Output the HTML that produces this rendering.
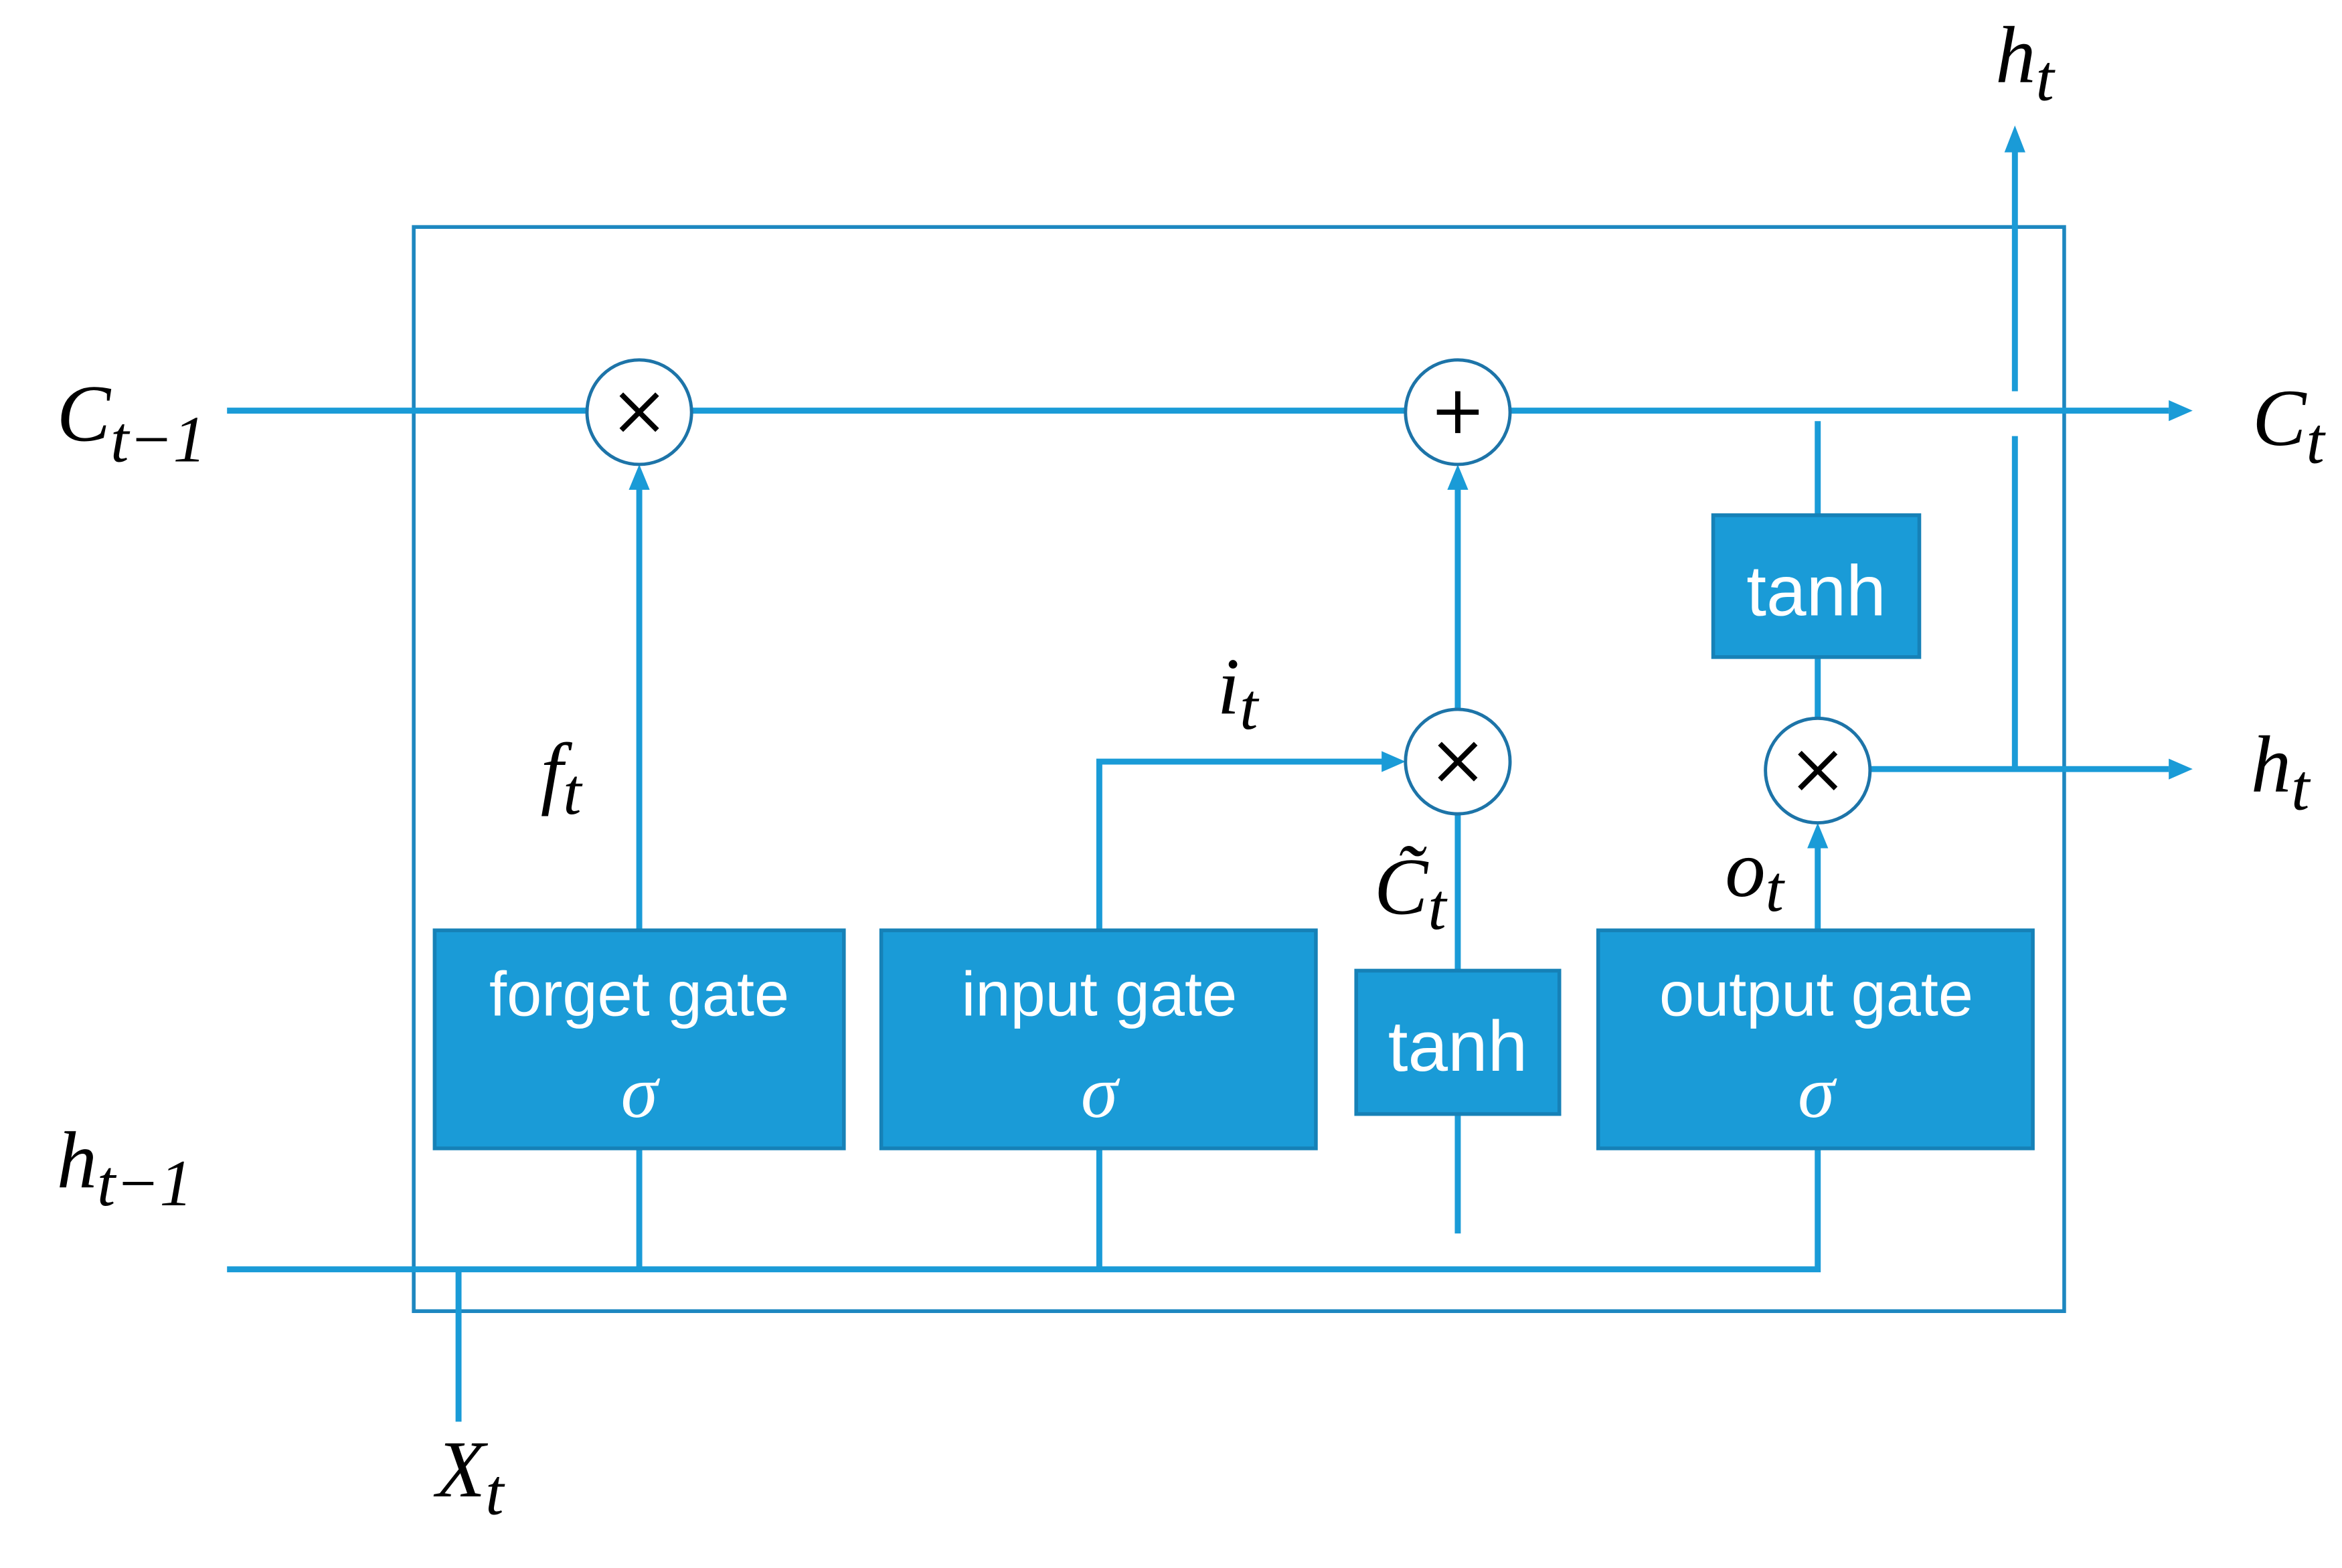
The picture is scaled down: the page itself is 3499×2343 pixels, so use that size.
<!DOCTYPE html>
<html><head><meta charset="utf-8"><style>
html,body{margin:0;padding:0;background:#fff;width:3499px;height:2343px;overflow:hidden}
svg{display:block}
.b{fill:#1a9bd7;stroke:#1681b7;stroke-width:2.5}
.l{stroke:#1a9bd7;stroke-width:4;fill:none}
.c{fill:#fff;stroke:#1d74a8;stroke-width:2.2}
.bt{fill:#fff;font-family:"Liberation Sans Narrow","Liberation Sans",sans-serif;font-size:42px;text-anchor:middle}
.sg{fill:#fff;font-family:"Liberation Serif",serif;font-style:italic;font-size:50px;text-anchor:middle}
.m{font-family:"Liberation Serif",serif;font-style:italic;font-size:54px;fill:#000}
.s{font-size:44px}
.op{stroke:#000;stroke-width:3.5;fill:none}
</style></head><body>
<svg width="3499" height="2343" viewBox="0 0 1568 1050" preserveAspectRatio="none">
<rect x="277" y="152" width="1105" height="726" fill="none" stroke="#1d87c0" stroke-width="2.5"/>
<line class="l" x1="152" y1="275" x2="393" y2="275"/>
<line class="l" x1="463" y1="275" x2="941" y2="275"/>
<line class="l" x1="1011" y1="275" x2="1452" y2="275"/>
<path d="M1452,268 L1468,275 L1452,282 z" fill="#1a9bd7"/>
<line class="l" x1="428" y1="623" x2="428" y2="326"/>
<path d="M421,328 L428,311 L435,328 z" fill="#1a9bd7"/>
<polyline class="l" points="736,623 736,510 926,510"/>
<path d="M925,503 L941,510 L925,517 z" fill="#1a9bd7"/>
<line class="l" x1="976" y1="475" x2="976" y2="326"/>
<path d="M969,328 L976,311 L983,328 z" fill="#1a9bd7"/>
<line class="l" x1="976" y1="545" x2="976" y2="650"/>
<line class="l" x1="976" y1="746" x2="976" y2="826"/>
<line class="l" x1="1217" y1="623" x2="1217" y2="566"/>
<path d="M1210,568 L1217,551 L1224,568 z" fill="#1a9bd7"/>
<line class="l" x1="1217" y1="282" x2="1217" y2="345"/>
<line class="l" x1="1217" y1="440" x2="1217" y2="481"/>
<line class="l" x1="1252" y1="515" x2="1452" y2="515"/>
<path d="M1452,508 L1468,515 L1452,522 z" fill="#1a9bd7"/>
<line class="l" x1="1349" y1="515" x2="1349" y2="292"/>
<line class="l" x1="1349" y1="262" x2="1349" y2="100"/>
<path d="M1342,102 L1349,84 L1356,102 z" fill="#1a9bd7"/>
<polyline class="l" points="152,850 1217,850 1217,769"/>
<line class="l" x1="428" y1="850" x2="428" y2="769"/>
<line class="l" x1="736" y1="850" x2="736" y2="769"/>
<line class="l" x1="307" y1="850" x2="307" y2="952"/>
<rect class="b" x="291" y="623" width="274" height="146"/>
<rect class="b" x="590" y="623" width="291" height="146"/>
<rect class="b" x="908" y="650" width="136" height="96"/>
<rect class="b" x="1070" y="623" width="291" height="146"/>
<rect class="b" x="1147" y="345" width="138" height="95"/>
<text class="bt" x="428" y="680">forget gate</text><text class="sg" x="428" y="748">σ</text>
<text class="bt" x="736" y="680">input gate</text><text class="sg" x="736" y="748">σ</text>
<text class="bt" x="1216" y="680">output gate</text><text class="sg" x="1216" y="748">σ</text>
<text class="bt" x="976" y="717" style="font-size:48px">tanh</text>
<text class="bt" x="1216" y="412" style="font-size:48px">tanh</text>
<circle class="c" cx="428" cy="276" r="35"/>
<path class="op" d="M416,264 L440,288 M440,264 L416,288"/>
<circle class="c" cx="976" cy="276" r="35"/>
<path class="op" d="M976,262 L976,290 M962,276 L990,276"/>
<circle class="c" cx="976" cy="510" r="35"/>
<path class="op" d="M964,498 L988,522 M988,498 L964,522"/>
<circle class="c" cx="1217" cy="516" r="35"/>
<path class="op" d="M1205,504 L1229,528 M1229,504 L1205,528"/>
<text class="m" x="38" y="295">C<tspan class="s" dy="14">t−1</tspan></text>
<text class="m" x="38" y="795">h<tspan class="s" dy="12">t−1</tspan></text>
<text class="m" x="292" y="1002">X<tspan class="s" dy="12">t</tspan></text>
<text class="m" x="362" y="535">f<tspan class="s" dy="10">t</tspan></text>
<text class="m" x="815" y="478">i<tspan class="s" dy="10">t</tspan></text>
<text class="m" x="920" y="612">C̃<tspan class="s" dy="10">t</tspan></text>
<text class="m" x="1155" y="600">o<tspan class="s" dy="10">t</tspan></text>
<text class="m" x="1508" y="298">C<tspan class="s" dy="12">t</tspan></text>
<text class="m" x="1507" y="530">h<tspan class="s" dy="12">t</tspan></text>
<text class="m" x="1336" y="55">h<tspan class="s" dy="12">t</tspan></text>
</svg>
</body></html>
